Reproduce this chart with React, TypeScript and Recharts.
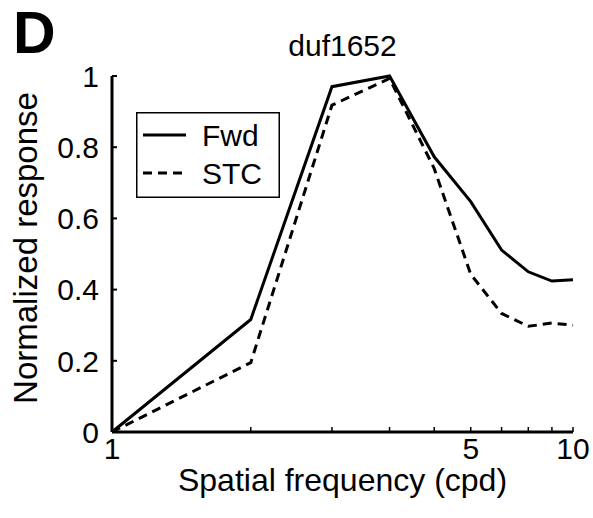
import { LineChart, Line, XAxis, YAxis, Legend } from 'recharts'

const spatialFreq = [1, 2, 3, 4, 5, 6, 7, 8, 9, 10]
const fwdResponse = [0, 0.316, 0.97, 1.0, 0.773, 0.647, 0.511, 0.45, 0.424, 0.428]
const stcResponse = [0, 0.195, 0.918, 0.993, 0.74, 0.443, 0.333, 0.297, 0.306, 0.3]

const xTicks = [1, 2, 3, 4, 5, 6, 7, 8, 9, 10]
// labelled ticks (as printed in the figure)
const xTickLabels: Record<number, string> = { 1: '1', 6: '5', 10: '10' }
const yTicks = [0, 0.2, 0.4, 0.6, 0.8, 1]

const FONT = '"Liberation Sans", Arial, Helvetica, sans-serif'

const data = spatialFreq.map((sf, i) => ({ sf, fwd: fwdResponse[i], stc: stcResponse[i] }))

function XTick({ x, y, payload }: any) {
  const label = xTickLabels[payload.value]
  return (
    <g>
      <line x1={x} y1={y} x2={x} y2={y - 5} stroke="#000" strokeWidth={1.5} />
      {label && (
        <text x={x} y={y + 27} textAnchor="middle" fontSize={30} fill="#000">
          {label}
        </text>
      )}
    </g>
  )
}

function YTick({ x, y, payload }: any) {
  return (
    <g>
      <line x1={x} y1={y} x2={x + 5} y2={y} stroke="#000" strokeWidth={2} />
      <text x={x - 13} y={y} dy="0.36em" textAnchor="end" fontSize={30} fill="#000">
        {String(payload.value)}
      </text>
    </g>
  )
}

function LegendBox({ payload }: any) {
  return (
    <svg width={144} height={86} style={{ display: 'block' }}>
      <rect x={0.75} y={0.75} width={142.5} height={84.5} fill="#fff" stroke="#000" strokeWidth={1.5} />
      {(payload || []).map((item: any, i: number) => {
        const cy = 23 + i * 38
        return (
          <g key={item.value}>
            <line
              x1={7}
              y1={cy}
              x2={50}
              y2={cy}
              stroke="#000"
              strokeWidth={3}
              strokeDasharray={item.payload?.strokeDasharray}
            />
            <text x={66} y={cy} dy="0.36em" fontSize={30} fill="#000">
              {item.value}
            </text>
          </g>
        )
      })}
    </svg>
  )
}

export default function App() {
  return (
    <div
      style={{
        position: 'absolute',
        left: 0,
        top: 0,
        width: 593,
        height: 518,
        background: '#fff',
        fontFamily: FONT,
      }}
    >
      <div
        style={{
          position: 'absolute',
          left: 13,
          top: 0,
          fontSize: 59,
          fontWeight: 'bold',
          lineHeight: '66px',
        }}
      >
        D
      </div>
      <div
        style={{
          position: 'absolute',
          left: 112,
          width: 461,
          top: 28,
          textAlign: 'center',
          fontSize: 30,
          lineHeight: '36px',
        }}
      >
        duf1652
      </div>
      <LineChart width={593} height={518} data={data} margin={{ top: 76, right: 20, left: 0, bottom: 0 }}>
        <XAxis
          dataKey="sf"
          type="number"
          scale="log"
          domain={[1, 10]}
          ticks={xTicks}
          interval={0}
          height={86}
          tickSize={0}
          tickMargin={0}
          tickLine={false}
          axisLine={{ stroke: '#000', strokeWidth: 3 }}
          tick={<XTick />}
          label={{ value: 'Spatial frequency (cpd)', position: 'insideBottom', offset: 27, fontSize: 32, fill: '#000' }}
        />
        <YAxis
          type="number"
          domain={[0, 1]}
          ticks={yTicks}
          interval={0}
          width={112}
          tickSize={0}
          tickMargin={0}
          tickLine={false}
          axisLine={{ stroke: '#000', strokeWidth: 3 }}
          tick={<YTick />}
          label={{
            content: () => (
              <text
                x={25}
                y={248}
                transform="rotate(-90, 25, 248)"
                textAnchor="middle"
                dominantBaseline="central"
                fontSize={33}
                fill="#000"
              >
                Normalized response
              </text>
            ),
          }}
        />
        <Legend
          layout="horizontal"
          verticalAlign="middle"
          content={<LegendBox />}
          wrapperStyle={{ left: 136, top: 112, width: 144, height: 86 }}
        />
        <Line
          dataKey="fwd"
          name="Fwd"
          stroke="#000"
          strokeWidth={3}
          dot={false}
          activeDot={false}
          isAnimationActive={false}
        />
        <Line
          dataKey="stc"
          name="STC"
          stroke="#000"
          strokeWidth={3}
          strokeDasharray="9 6"
          dot={false}
          activeDot={false}
          isAnimationActive={false}
        />
      </LineChart>
    </div>
  )
}
